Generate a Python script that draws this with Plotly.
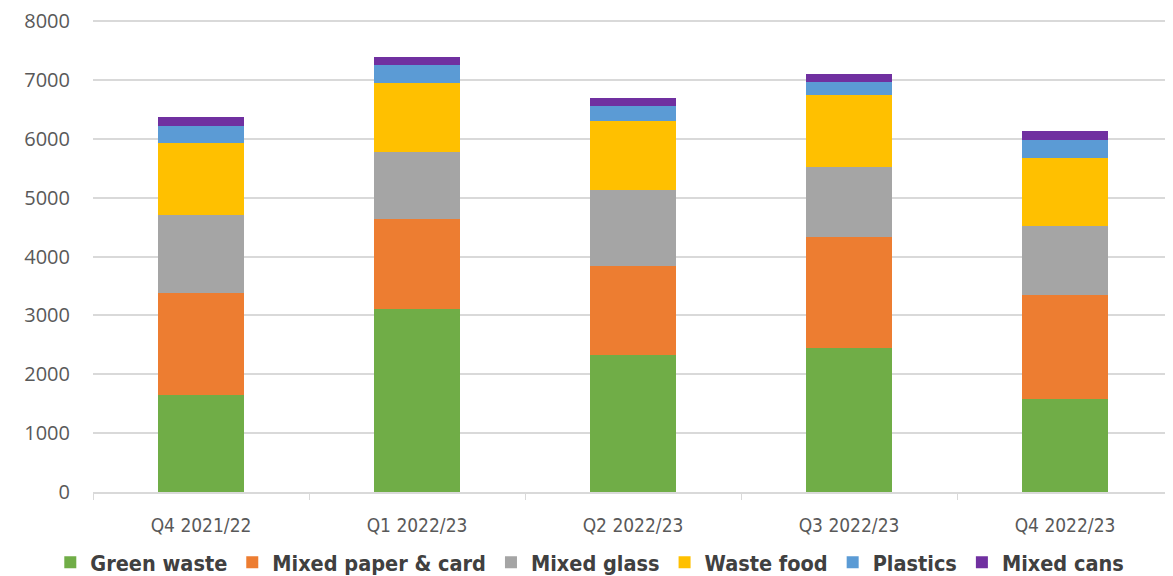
import plotly.graph_objects as go

categories = ["Q4 2021/22", "Q1 2022/23", "Q2 2022/23", "Q3 2022/23", "Q4 2022/23"]
green_waste = [1645, 3105, 2320, 2440, 1575]
mixed_paper = [1730, 1540, 1525, 1900, 1765]
mixed_glass = [1335, 1135, 1290, 1185, 1185]
waste_food = [1220, 1170, 1170, 1220, 1155]
plastics = [290, 305, 255, 220, 305]
mixed_cans = [150, 135, 135, 135, 150]
y_ticks = [0, 1000, 2000, 3000, 4000, 5000, 6000, 7000, 8000]

series = [
    ("Green waste", green_waste, "#70AD47"),
    ("Mixed paper & card", mixed_paper, "#ED7D31"),
    ("Mixed glass", mixed_glass, "#A5A5A5"),
    ("Waste food", waste_food, "#FFC000"),
    ("Plastics", plastics, "#5B9BD5"),
    ("Mixed cans", mixed_cans, "#7030A0"),
]

fig = go.Figure()
for name, vals, col in series:
    fig.add_trace(go.Bar(x=categories, y=vals, name=name,
                         marker=dict(color=col, line=dict(width=0))))

narrow = "DejaVu Sans Condensed, sans-serif"
# page body has an 8px default margin, so the figure is sized to fit the window
fig.update_layout(
    barmode="stack",
    bargap=0.6,
    width=1165, height=568,
    margin=dict(l=85, r=0, t=12, b=84, autoexpand=False),
    plot_bgcolor="white", paper_bgcolor="white",
    font=dict(family="Open Sans, Liberation Sans, sans-serif", color="#595959", size=16),
    legend=dict(orientation="h", x=0.46, xanchor="center", y=-0.149, yanchor="middle",
                font=dict(family=narrow, size=21.5, color="#404040", weight="bold"),
                traceorder="normal", itemwidth=30),
    yaxis=dict(range=[0, 8020], tickvals=y_ticks, showgrid=True, gridcolor="#d9d9d9", gridwidth=1.5,
               zeroline=False, showline=False, ticks="", ticklabelstandoff=22, automargin=False,
               ticklabeloverflow="allow",
               tickfont=dict(size=20, color="#595959")),
    xaxis=dict(showline=True, linecolor="#d9d9d9", linewidth=1.5, ticks="outside",
               tickson="boundaries", ticklen=6, tickcolor="#d9d9d9", automargin=False,
               ticklabelstandoff=15,
               tickfont=dict(family=narrow, size=19, color="#595959")),
)
fig.write_html("out.html")
